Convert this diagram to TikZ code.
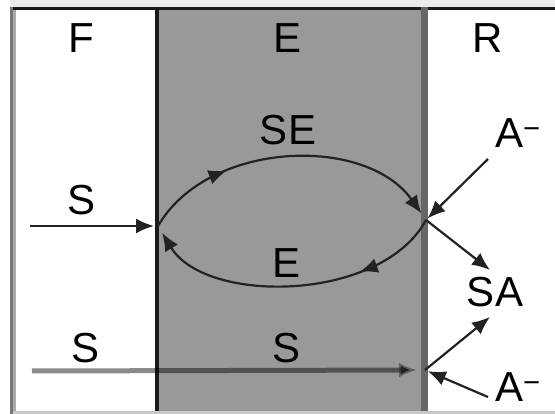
\documentclass[tikz,border=0pt]{standalone}
\usepackage{fontspec}
\setmainfont{Liberation Sans}
\usetikzlibrary{arrows.meta,decorations.markings}
\definecolor{midgray}{HTML}{999999}
\definecolor{topstrip}{HTML}{ECECEC}
\definecolor{borderdark}{HTML}{777777}
\definecolor{borderlight}{HTML}{AAAAAA}
\definecolor{divdark}{HTML}{1A1A1A}
\definecolor{divright}{HTML}{666666}
\definecolor{bottomline}{HTML}{C8C8C8}
\definecolor{ink}{HTML}{222222}
\begin{document}
\begin{tikzpicture}[x=1pt,y=-1pt,
  lbl/.style={inner sep=0pt, font=\fontsize{42}{42}\selectfont},
  tipshape/.style={-{Latex[length=18pt,width=15pt]}},
  conn/.style={line width=2.2pt, draw=ink, tipshape},
  midarrow/.style={postaction={decorate}, decoration={markings,
     mark=at position #1 with {\arrow{Latex[length=18pt,width=15pt]}}}}
]
\useasboundingbox (0,0) rectangle (555,414);
% panels
\fill[midgray] (157,9) rectangle (424,414);
\fill[topstrip] (10,0) rectangle (555,7);
\fill[divdark] (10,7) rectangle (555,10);
\fill[borderdark] (10,7) rectangle (13,414);
\fill[borderlight] (13,10) rectangle (16,411);
\fill[divdark] (155,7) rectangle (159,414);
\fill[divright] (421,7) rectangle (428,414);
\fill[bottomline] (13,411) rectangle (555,414);
% labels
\node[lbl, anchor=base] (hF) at (81,53) {F};
\node[lbl, anchor=base] (hE) at (288,53) {E};
\node[lbl, anchor=base] (hR) at (488,53) {R};
\node[lbl, anchor=base] (lSE) at (288,145) {SE};
\node[lbl, anchor=base] (lS1) at (82,215) {S};
\node[lbl, anchor=base] (lE) at (287,278) {E};
\node[lbl, anchor=base west] (lA1) at (495,148) {A\textsuperscript{−}};
\node[lbl, anchor=base] (lSA) at (495,307) {SA};
\node[lbl, anchor=base] (lS2) at (86,363) {S};
\node[lbl, anchor=base] (lS3) at (287,363) {S};
\node[lbl, anchor=base west] (lA2) at (495,402) {A\textsuperscript{−}};
% points
\coordinate (L) at (158,226);
\coordinate (Rj) at (426,220);
\coordinate (Rb) at (425,370);
\coordinate (in1) at (30,226);
\coordinate (in2) at (32,371);
\coordinate (atop) at (488,159);
\coordinate (saend) at (490,270);
\coordinate (saend2) at (490,317);
\coordinate (abot) at (488,397);
% connectors
\draw[conn, shorten >=4pt] (in1) -- (L);
\draw[conn, shorten >=8pt, midarrow=0.29] (L) .. controls (208,140) and (366,135) .. (Rj);
\draw[conn, shorten >=8pt, midarrow=0.28] (Rj) .. controls (382,302) and (206,305) .. (L);
\draw[conn, shorten >=2pt] (atop) -- (Rj);
\draw[conn] (Rj) -- (saend);
\draw[line width=5pt, draw=black, draw opacity=0.46, -{Latex[length=18pt,width=15pt, fill=ink, color=ink]}, shorten >=8pt] (in2) -- (Rb);
\draw[conn] (Rb) -- (saend2);
\draw[conn, shorten >=3pt] (abot) -- (Rb);
\end{tikzpicture}
\end{document}
